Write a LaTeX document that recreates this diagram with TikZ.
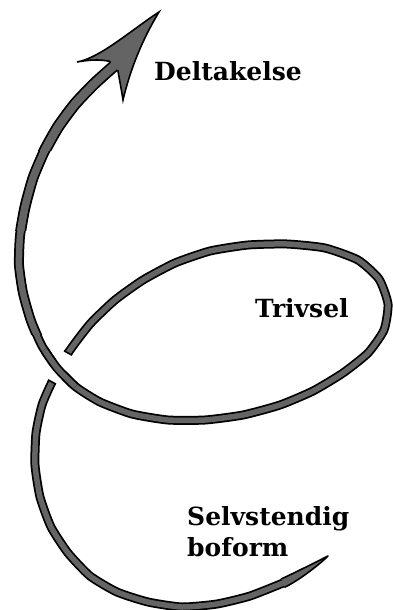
\documentclass[tikz,border=0pt]{standalone}
\usepackage{fontspec}
\setmainfont{DejaVu Serif}
\definecolor{strand}{RGB}{100,100,100}
\tikzset{
  outerline/.style={line width=#1, black, line cap=butt, line join=round},
  innerline/.style={line width=#1, strand, line cap=butt, line join=round},
  edgeline/.style={line width=1.6pt, black, line cap=round, line join=round},
  lbl/.style={font=\fontsize{25}{28}\selectfont\bfseries, inner sep=0pt, anchor=base west},
}
\def\spiral{plot[smooth, tension=0.35] coordinates {(283,583) (250,596) (217,604) (182,607) (148,602) (117,592) (90,576) (68,553) (51,527) (40,497) (35,465) (36,433) (42,405) (52,382) (68,353) (90,324) (115,300) (143,280) (175,263) (210,251) (248,245) (287,244) (325,248) (358,260) (379,279) (388,304) (384,330) (368,353) (343,373) (313,391) (280,405) (243,415) (205,420) (168,420) (132,414) (100,402) (76,387) (57,368) (42,346) (31,321) (23,293) (19,265) (20,236) (25,207) (33,178) (44,152) (58,127) (75,104) (94,84) (114,66)}}
\def\overpart{plot[smooth, tension=0.35] coordinates {(168,420) (132,414) (100,402) (76,387) (57,368) (42,346) (31,321) (23,293)}}
\begin{document}
\begin{tikzpicture}[x=1pt,y=-1pt]
\useasboundingbox (0,0) rectangle (393,610);
% black outline layers
\draw[outerline=9pt] \spiral;
\begin{scope}
  \clip (0,0) rectangle (58,335) (0,0) rectangle (140,230);
  \draw[outerline=10pt] \spiral;
\end{scope}
\begin{scope}
  \clip (0,0) rectangle (140,230);
  \draw[outerline=11pt] \spiral;
\end{scope}
\begin{scope}
  \clip (0,0) rectangle (140,150);
  \draw[outerline=12pt] \spiral;
\end{scope}
% grey interior layers
\draw[innerline=5.5pt] \spiral;
\begin{scope}
  \clip (0,0) rectangle (58,335) (0,0) rectangle (140,230);
  \draw[innerline=6.5pt] \spiral;
\end{scope}
\begin{scope}
  \clip (0,0) rectangle (140,230);
  \draw[innerline=7.5pt] \spiral;
\end{scope}
\begin{scope}
  \clip (0,0) rectangle (140,150);
  \draw[innerline=8.5pt] \spiral;
\end{scope}
% gap where the lower strand passes under
\coordinate (g1) at (52,382);
\coordinate (g2) at (68,353);
\draw[white, line width=14pt, line cap=butt] (g1) -- (g2);
\begin{scope}
  \clip (60,368) circle (24);
  \draw[outerline=9pt] \overpart;
  \draw[innerline=5.5pt] \overpart;
\end{scope}
\draw[edgeline, line cap=butt] (48.06,379.83) -- (55.94,384.17);
\draw[edgeline, line cap=butt] (64.06,350.83) -- (71.94,355.17);
% tapered start
\fill[strand] (281.2,578.9) .. controls (292.2,574.1) and (316,562) .. (328,556)
   .. controls (318,566) and (295.8,582.3) .. (284.8,587.1) -- cycle;
\draw[edgeline] (281.2,578.9) .. controls (292.2,574.1) and (316,562) .. (328,556)
   .. controls (318,566) and (295.8,582.3) .. (284.8,587.1);
% arrow head
\coordinate (tip) at (159,12);
\coordinate (lb) at (77,62);
\coordinate (rb) at (123,100);
\coordinate (n1) at (110.1,61.5);
\coordinate (n2) at (117.9,70.5);
\fill[strand] (n2) .. controls (119.5,80) and (121.5,90) .. (rb)
   .. controls (130.4,68.8) and (142.4,39.4) .. (tip)
   .. controls (130,31) and (100,58) .. (lb)
   .. controls (88,60) and (100,59) .. (n1) -- cycle;
\draw[edgeline, line join=miter] (n2) .. controls (119.5,80) and (121.5,90) .. (rb)
   .. controls (130.4,68.8) and (142.4,39.4) .. (tip)
   .. controls (130,31) and (100,58) .. (lb)
   .. controls (88,60) and (100,59) .. (n1);
% labels
\node[lbl] (delt) at (154,80) {Deltakelse};
\node[lbl] (triv) at (255,317) {Trivsel};
\node[lbl] (selv) at (187,525) {Selvstendig};
\node[lbl] (bof) at (187,556) {boform};
\end{tikzpicture}
\end{document}
